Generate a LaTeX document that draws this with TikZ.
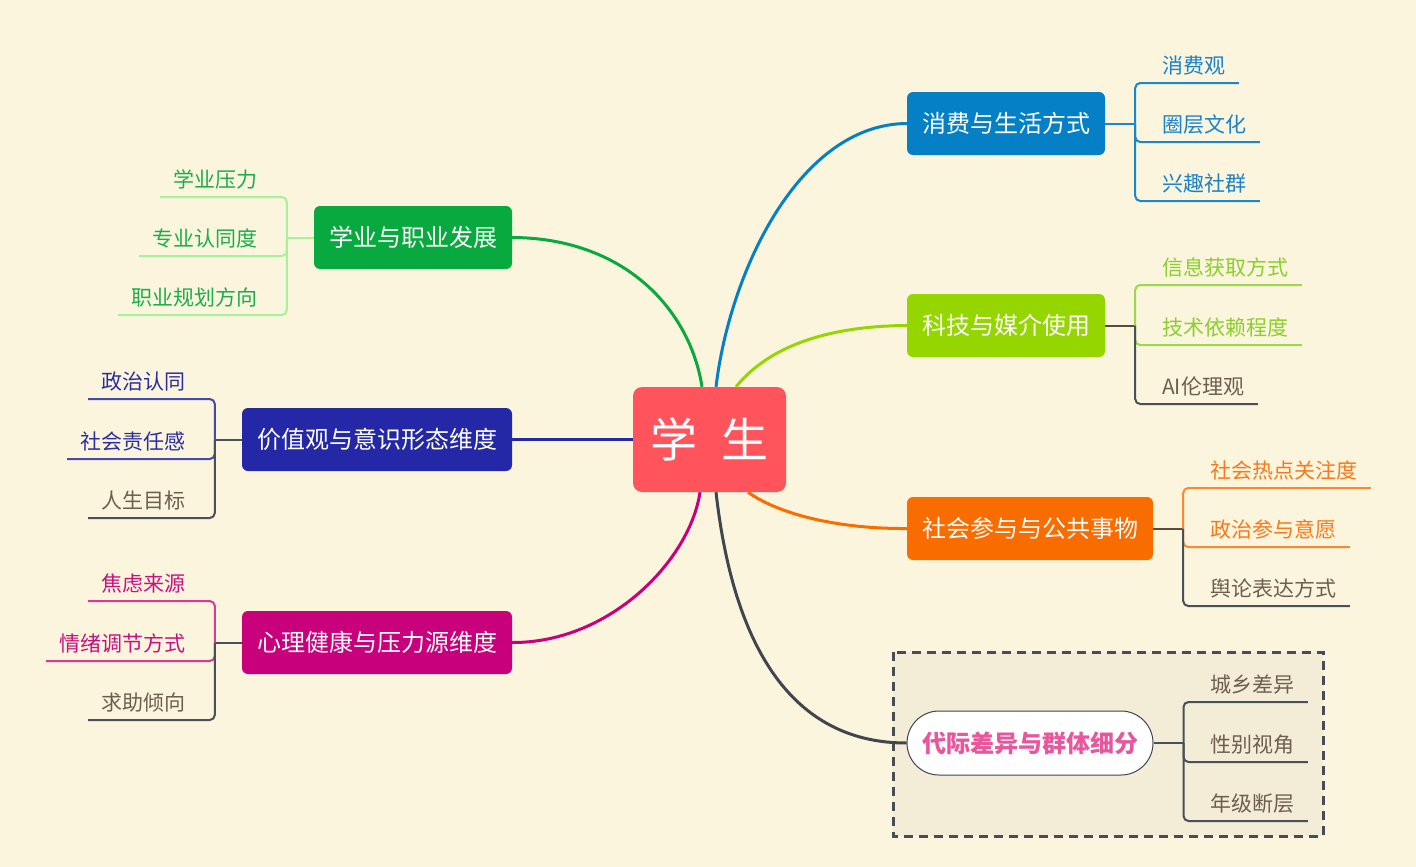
\documentclass[tikz,border=0pt]{standalone}
\usepackage{fontspec}
\setmainfont{Noto Sans CJK SC}
\usepackage{tikz}

\definecolor{bgCream}{HTML}{FBF5DE}
\definecolor{frameFill}{HTML}{F3ECD6}
\definecolor{frameLine}{HTML}{464D55}
\definecolor{rootRed}{HTML}{FF545C}
\definecolor{xyBox}{HTML}{08A93E}
\definecolor{xyText}{HTML}{1BAE4B}
\definecolor{xyLine}{HTML}{A6F29B}
\definecolor{jzBox}{HTML}{2427A6}
\definecolor{jzText}{HTML}{2B2E9C}
\definecolor{jzLine}{HTML}{4648AE}
\definecolor{xlBox}{HTML}{C8007C}
\definecolor{xlText}{HTML}{C8107F}
\definecolor{xlLine}{HTML}{D43A96}
\definecolor{xfBox}{HTML}{0580C6}
\definecolor{xfText}{HTML}{1A82C8}
\definecolor{xfLine}{HTML}{1A86CB}
\definecolor{kjBox}{HTML}{95D600}
\definecolor{kjText}{HTML}{8CCF2C}
\definecolor{kjLine}{HTML}{9BD94A}
\definecolor{shBox}{HTML}{F86C00}
\definecolor{shText}{HTML}{F77A1A}
\definecolor{shLine}{HTML}{F98A30}
\definecolor{leafText}{HTML}{6F5E50}
\definecolor{leafLine}{HTML}{4A5057}
\definecolor{stubBrown}{HTML}{5C4A3C}
\definecolor{djLine}{HTML}{3F464D}
\definecolor{djText}{HTML}{E8569E}

\begin{document}
\begin{tikzpicture}[x=1pt,y=-1pt,
    topic/.style={rounded corners=6pt, inner sep=0pt, minimum height=63pt, text=white,
        font=\fontsize{24}{28}\selectfont, text height=21pt, text depth=3pt},
    leaf/.style={inner xsep=13.5pt, inner ysep=4pt, text height=17pt, text depth=5pt,
        font=\fontsize{21}{25}\selectfont},
    branch/.style={line width=3pt},
    twig/.style={line width=2pt, rounded corners=5pt},
]
    \useasboundingbox (0,0) rectangle (1416,867);
    \fill[bgCream] (0,0) rectangle (1416,867);
    \draw[frameLine, fill=frameFill, line width=3pt, dash pattern=on 9pt off 6pt] (893,652) rectangle (1323,836);

    % centre and main topics
    \node[fill=rootRed, rounded corners=9pt, inner sep=0pt, minimum width=153pt, minimum height=105pt,
        text=white, font=\fontsize{47}{50}\selectfont, text height=40pt, text depth=4pt] (root) at (709.5,439.5) {学\enspace 生};
    \node[topic, fill=xyBox, minimum width=198pt] (xy) at (413,237.5) {学业与职业发展};
    \node[topic, fill=jzBox, minimum width=270pt] (jz) at (377,439.5) {价值观与意识形态维度};
    \node[topic, fill=xlBox, minimum width=270pt] (xl) at (377,642.5) {心理健康与压力源维度};
    \node[topic, fill=xfBox, minimum width=198pt] (xf) at (1006,123.5) {消费与生活方式};
    \node[topic, fill=kjBox, minimum width=198pt] (kj) at (1006,325.5) {科技与媒介使用};
    \node[topic, fill=shBox, minimum width=246pt] (sh) at (1030,528.5) {社会参与与公共事物};
    \node[draw=djLine, line width=1pt, fill=white, rounded corners=32pt, inner sep=0pt, minimum width=246pt,
        minimum height=64pt, text=djText, font=\bfseries\fontsize{24}{28}\selectfont,
        text height=21pt, text depth=3pt] (dj) at (1030,743) {代际差异与群体细分};

    \draw[branch, xyBox] ([xshift=-7.5pt]root.north) .. controls (690,310) and (625,238) .. (xy.east);
    \draw[branch, jzBox] (root.west) -- (jz.east);
    \draw[branch, xlBox] ([xshift=-9.5pt]root.south) .. controls (690,560) and (610,643) .. (xl.east);
    \draw[branch, xfBox] ([xshift=6.5pt]root.north) .. controls (730,270) and (800,124) .. (xf.west);
    \draw[branch, kjBox] ([xshift=26.5pt]root.north) .. controls (770,345) and (830,326) .. (kj.west);
    \draw[branch, shBox] ([xshift=38.5pt]root.south) .. controls (780,515) and (840,529) .. (sh.west);
    \draw[branch, djLine] ([xshift=6.5pt]root.south) .. controls (735,660) and (800,743) .. (dj.west);

    % left side subtopics
    \coordinate (xyj) at ([xshift=-27pt]xy.west);
    \draw[twig, xyLine] (xy.west) -- (xyj);
    \foreach \i/\uy/\t/\tc/\lc in {1/197/学业压力/xyText/xyLine, 2/256/专业认同度/xyText/xyLine, 3/315/职业规划方向/xyText/xyLine} {
        \node[leaf, text=\tc, anchor=south east] (xy\i) at (271.5,\uy) {\t};
        \draw[twig, \lc] (xyj) |- (xy\i.south west);
    }

    \coordinate (jzj) at ([xshift=-27pt]jz.west);
    \draw[twig, leafLine] (jz.west) -- (jzj);
    \foreach \i/\uy/\t/\tc/\lc in {1/399/政治认同/jzText/jzLine, 2/459/社会责任感/jzText/jzLine, 3/518/人生目标/leafText/leafLine} {
        \node[leaf, text=\tc, anchor=south east] (jz\i) at (199.5,\uy) {\t};
        \draw[twig, \lc] (jzj) |- (jz\i.south west);
    }

    \coordinate (xlj) at ([xshift=-27pt]xl.west);
    \draw[twig, leafLine] (xl.west) -- (xlj);
    \foreach \i/\uy/\t/\tc/\lc in {1/601/焦虑来源/xlText/xlLine, 2/661/情绪调节方式/xlText/xlLine, 3/720/求助倾向/leafText/leafLine} {
        \node[leaf, text=\tc, anchor=south east] (xl\i) at (199.5,\uy) {\t};
        \draw[twig, \lc] (xlj) |- (xl\i.south west);
    }

    % right side subtopics
    \coordinate (xfj) at ([xshift=30pt]xf.east);
    \draw[twig, xfLine] (xf.east) -- (xfj);
    \foreach \i/\uy/\t/\tc/\lc in {1/83/消费观/xfText/xfLine, 2/142/圈层文化/xfText/xfLine, 3/201/兴趣社群/xfText/xfLine} {
        \node[leaf, text=\tc, anchor=south west] (xf\i) at (1148.5,\uy) {\t};
        \draw[twig, \lc] (xfj) |- (xf\i.south east);
    }

    \coordinate (kjj) at ([xshift=30pt]kj.east);
    \draw[twig, stubBrown] (kj.east) -- (kjj);
    \foreach \i/\uy/\t/\tc/\lc in {1/285/信息获取方式/kjText/kjLine, 2/345/技术依赖程度/kjText/kjLine, 3/404/AI伦理观/leafText/leafLine} {
        \node[leaf, text=\tc, anchor=south west] (kj\i) at (1148.5,\uy) {\t};
        \draw[twig, \lc] (kjj) |- (kj\i.south east);
    }

    \coordinate (shj) at ([xshift=30pt]sh.east);
    \draw[twig, stubBrown] (sh.east) -- (shj);
    \foreach \i/\uy/\t/\tc/\lc in {1/488/社会热点关注度/shText/shLine, 2/547/政治参与意愿/shText/shLine, 3/606/舆论表达方式/leafText/leafLine} {
        \node[leaf, text=\tc, anchor=south west] (sh\i) at (1196.5,\uy) {\t};
        \draw[twig, \lc] (shj) |- (sh\i.south east);
    }

    \coordinate (djj) at ([xshift=30pt]dj.east);
    \draw[twig, leafLine] (dj.east) -- (djj);
    \foreach \i/\uy/\t in {1/702/城乡差异, 2/762/性别视角, 3/821/年级断层} {
        \node[leaf, text=leafText, anchor=south west] (dj\i) at (1196.5,\uy) {\t};
        \draw[twig, leafLine] (djj) |- (dj\i.south east);
    }
\end{tikzpicture}
\end{document}
